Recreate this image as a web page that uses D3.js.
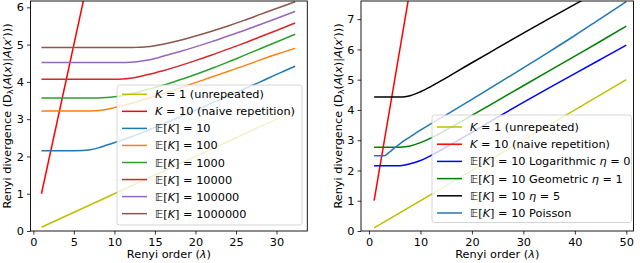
<!DOCTYPE html>
<html>
<head>
<meta charset="utf-8">
<script src="https://cdn.jsdelivr.net/npm/d3@7"></script>
<style>
  body { margin: 0; background: #fff; }
  svg { display: block; font-family: "DejaVu Sans", sans-serif; }
</style>
</head>
<body>
<svg id="chart" width="640" height="263"></svg>
<script>
// ---- left panel data ----
const lamLineL = [1, 32.3];
const unrepeatedL = [0.1, 3.23];
const lamNaive = [1, 9];
const naive = [1, 9];

const lamLeft = [1, 4, 6, 7, 8, 9, 10, 11, 12, 13, 14, 15, 16, 18, 20, 22, 24, 26, 28, 30, 32.3];
const ek10 = [2.15, 2.15, 2.16, 2.18, 2.23, 2.30, 2.37, 2.44, 2.52, 2.60, 2.69, 2.78, 2.87, 3.05, 3.24, 3.43, 3.62, 3.81, 4.00, 4.20, 4.42];
const ek100 = [3.22, 3.22, 3.22, 3.22, 3.23, 3.26, 3.31, 3.36, 3.42, 3.48, 3.55, 3.62, 3.69, 3.83, 3.98, 4.13, 4.28, 4.43, 4.59, 4.74, 4.90];
const ek1000 = [3.57, 3.57, 3.57, 3.57, 3.57, 3.58, 3.60, 3.63, 3.68, 3.73, 3.79, 3.85, 3.91, 4.05, 4.20, 4.36, 4.53, 4.71, 4.89, 5.07, 5.28];
const ek10000 = [4.07, 4.07, 4.07, 4.07, 4.07, 4.07, 4.07, 4.08, 4.10, 4.14, 4.19, 4.24, 4.30, 4.43, 4.57, 4.72, 4.88, 5.04, 5.21, 5.38, 5.58];
const ek100000 = [4.52, 4.52, 4.52, 4.52, 4.52, 4.52, 4.52, 4.52, 4.53, 4.55, 4.58, 4.63, 4.69, 4.81, 4.94, 5.08, 5.23, 5.38, 5.54, 5.70, 5.89];
const ek1000000 = [4.92, 4.92, 4.92, 4.92, 4.92, 4.92, 4.92, 4.92, 4.92, 4.93, 4.94, 4.97, 5.01, 5.11, 5.23, 5.36, 5.50, 5.65, 5.81, 5.97, 6.15];

// ---- right panel data ----
const lamLineR = [1, 50];
const unrepeatedR = [0.1, 5.0];
const lamRight = [1, 2, 3, 4, 5, 6, 7, 8, 10, 12, 15, 20, 25, 30, 35, 40, 45, 50];
const logarithmic = [2.16, 2.16, 2.16, 2.16, 2.16, 2.16, 2.18, 2.22, 2.33, 2.49, 2.77, 3.26, 3.76, 4.25, 4.73, 5.20, 5.67, 6.14];
const geometric = [2.77, 2.77, 2.77, 2.77, 2.77, 2.77, 2.78, 2.81, 2.92, 3.07, 3.34, 3.82, 4.31, 4.80, 5.29, 5.78, 6.27, 6.77];
const eta5 = [4.43, 4.43, 4.43, 4.43, 4.43, 4.43, 4.44, 4.47, 4.60, 4.77, 5.06, 5.56, 6.05, 6.54, 7.02, 7.49, 7.95, 8.40];
const poisson = [2.49, 2.49, 2.49, 2.61, 2.75, 2.88, 3.00, 3.11, 3.33, 3.54, 3.84, 4.35, 4.87, 5.39, 5.92, 6.46, 7.02, 7.58];

// label pieces: [text, style]  style: "" normal, "i" italic, "s" subscript
const yLabel = [["Renyi divergence (D", ""], ["λ", "s"], ["(", ""], ["A", "i"], ["(", ""], ["x", "i"], [")|", ""], ["A", "i"], ["(", ""], ["x", "i"], ["′", ""], [")))", ""]];
const xLabel = [["Renyi order (", ""], ["λ", "i"], [")", ""]];

const leftSeries = [
    { lam: lamLineL, vals: unrepeatedL, color: "#bfbf00", label: [["K", "i"], [" = 1 (unrepeated)", ""]] },
    { lam: lamNaive, vals: naive, color: "#ff0000", label: [["K", "i"], [" = 10 (naive repetition)", ""]] },
    { lam: lamLeft, vals: ek10, color: "#1f77b4", label: [["𝔼[", ""], ["K", "i"], ["] = 10", ""]] },
    { lam: lamLeft, vals: ek100, color: "#ff7f0e", label: [["𝔼[", ""], ["K", "i"], ["] = 100", ""]] },
    { lam: lamLeft, vals: ek1000, color: "#2ca02c", label: [["𝔼[", ""], ["K", "i"], ["] = 1000", ""]] },
    { lam: lamLeft, vals: ek10000, color: "#d62728", label: [["𝔼[", ""], ["K", "i"], ["] = 10000", ""]] },
    { lam: lamLeft, vals: ek100000, color: "#9467bd", label: [["𝔼[", ""], ["K", "i"], ["] = 100000", ""]] },
    { lam: lamLeft, vals: ek1000000, color: "#8c564b", label: [["𝔼[", ""], ["K", "i"], ["] = 1000000", ""]] }
];

const rightSeries = [
    { lam: lamLineR, vals: unrepeatedR, color: "#bfbf00", label: [["K", "i"], [" = 1 (unrepeated)", ""]] },
    { lam: lamNaive, vals: naive, color: "#ff0000", label: [["K", "i"], [" = 10 (naive repetition)", ""]] },
    { lam: lamRight, vals: logarithmic, color: "#0000ff", label: [["𝔼[", ""], ["K", "i"], ["] = 10 Logarithmic ", ""], ["η", "i"], [" = 0", ""]] },
    { lam: lamRight, vals: geometric, color: "#008000", label: [["𝔼[", ""], ["K", "i"], ["] = 10 Geometric ", ""], ["η", "i"], [" = 1", ""]] },
    { lam: lamRight, vals: eta5, color: "#000000", label: [["𝔼[", ""], ["K", "i"], ["] = 10 ", ""], ["η", "i"], [" = 5", ""]] },
    { lam: lamRight, vals: poisson, color: "#1f77b4", label: [["𝔼[", ""], ["K", "i"], ["] = 10 Poisson", ""]] }
];

const FS = 11.3;

function richText(sel, pieces) {
    pieces.forEach(p => {
        const t = sel.append("tspan").text(p[0]);
        if (p[1] === "i") t.attr("font-style", "italic");
        if (p[1] === "s") t.attr("font-size", FS * 0.7).attr("baseline-shift", "-25%");
    });
}

function drawPanel(svg, id, series, opts) {
    const w = opts.right - opts.left;
    const h = opts.bottom - opts.top;
    const g = svg.append("g").attr("transform", `translate(${opts.left},${opts.top})`);

    const x = d3.scaleLinear().domain(opts.xDomain).range([0, w]);
    const y = d3.scaleLinear().domain(opts.yDomain).range([h, 0]);

    g.append("clipPath").attr("id", id)
        .append("rect").attr("width", w).attr("height", h);

    const line = d3.line()
        .x(d => x(d[0]))
        .y(d => y(d[1]))
        .curve(d3.curveMonotoneX);

    series.forEach(s => {
        g.append("path")
            .datum(s.lam.map((l, i) => [l, s.vals[i]]))
            .attr("clip-path", `url(#${id})`)
            .attr("d", line)
            .attr("fill", "none")
            .attr("stroke", s.color)
            .attr("stroke-width", 1.5);
    });

    // axes
    const xAxis = g.append("g")
        .attr("transform", `translate(0,${h})`)
        .call(d3.axisBottom(x).tickValues(opts.xTicks).tickFormat(d3.format("d")).tickSize(3.5).tickPadding(3));
    const yAxis = g.append("g")
        .call(d3.axisLeft(y).tickValues(opts.yTicks).tickFormat(d3.format("d")).tickSize(3.5).tickPadding(3));
    [xAxis, yAxis].forEach(a => {
        a.select(".domain").remove();
        a.selectAll("text").attr("font-size", FS).attr("font-family", "DejaVu Sans").attr("fill", "#000");
        a.selectAll("line").attr("stroke", "#000").attr("stroke-width", 0.8);
    });

    // frame
    g.append("rect")
        .attr("width", w).attr("height", h)
        .attr("fill", "none").attr("stroke", "#000").attr("stroke-width", 0.9);

    // legend
    const lg = g.append("g").attr("transform", `translate(${opts.legend.x - opts.left},${opts.legend.y - opts.top})`);
    lg.append("rect")
        .attr("width", opts.legend.w).attr("height", opts.legend.h)
        .attr("rx", 2.5)
        .attr("fill", "#fff").attr("fill-opacity", 0.8)
        .attr("stroke", "#cccccc").attr("stroke-width", 0.8);
    series.forEach((s, i) => {
        const row = lg.append("g").attr("transform", `translate(0,${opts.legend.row0 + i * opts.legend.step})`);
        row.append("line")
            .attr("x1", 5).attr("x2", 30)
            .attr("stroke", s.color).attr("stroke-width", 1.5);
        const t = row.append("text")
            .attr("x", 38).attr("y", 4)
            .attr("font-size", FS);
        richText(t, s.label);
    });

    // axis labels
    const xl = svg.append("text")
        .attr("x", opts.left + w / 2).attr("y", 258)
        .attr("text-anchor", "middle")
        .attr("font-size", FS);
    richText(xl, xLabel);

    const yl = svg.append("text")
        .attr("transform", `translate(${opts.yLabelX},${116}) rotate(-90)`)
        .attr("text-anchor", "middle")
        .attr("font-size", FS);
    richText(yl, yLabel);
}

const svg = d3.select("#chart");

drawPanel(svg, "clipL", leftSeries, {
    left: 30.5, right: 307.3, top: 1, bottom: 231,
    xDomain: [-0.35, 33.8], yDomain: [0, 6.17],
    xTicks: [0, 5, 10, 15, 20, 25, 30], yTicks: [0, 1, 2, 3, 4, 5, 6],
    legend: { x: 117, y: 85, w: 185, h: 140, row0: 9.3, step: 17.05 },
    yLabelX: 11
});

drawPanel(svg, "clipR", rightSeries, {
    left: 361, right: 633.5, top: 1, bottom: 231,
    xDomain: [-1.55, 51.4], yDomain: [0, 7.6],
    xTicks: [0, 10, 20, 30, 40, 50], yTicks: [0, 1, 2, 3, 4, 5, 6, 7],
    legend: { x: 432, y: 115, w: 199.5, h: 107.5, row0: 12, step: 17.2 },
    yLabelX: 342
});
</script>
</body>
</html>
